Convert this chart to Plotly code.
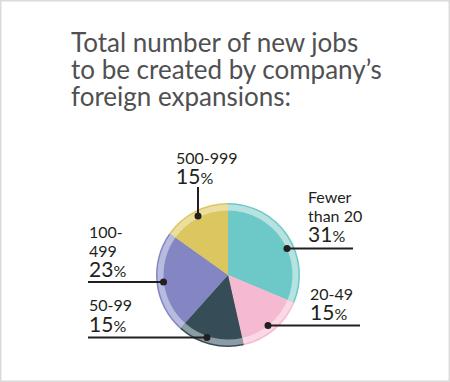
import plotly.graph_objects as go

# ---- data ----
categories = ["Fewer than 20", "20-49", "50-99", "100-499", "500-999"]
values = [31, 15, 15, 23, 15]
label_lines = [["Fewer", "than 20"], ["20-49"], ["50-99"], ["100-", "499"], ["500-999"]]
main_colors = ["#6CC9C7", "#F6B9D2", "#364D58", "#8386C2", "#DCC660"]
light_colors = ["#B6E2E0", "#FBD8E6", "#8A9DA4", "#B8BBE0", "#EADF9F"]
title_lines = ["Total number of new jobs", "to be created by company\u2019s", "foreign expansions:"]

W, H = 450, 382
CX, CY = 228, 275
FAM = "Lato, 'Open Sans', sans-serif"


def px(x):
    return x / W


def py(y):
    return 1 - y / H


def dom(r):
    return dict(x=[px(CX - r), px(CX + r)], y=[py(CY + r), py(CY - r)])


fig = go.Figure()
for r, cols in [(72, main_colors), (70.5, light_colors), (64.5, main_colors)]:
    fig.add_trace(go.Pie(
        labels=categories, values=values, sort=False, direction="clockwise",
        rotation=0, textinfo="none", hoverinfo="label+percent",
        marker=dict(colors=cols, line=dict(width=0)),
        domain=dom(r), showlegend=False,
    ))

annotations = []
# title: one block, line pitch 27px
title_txt = "<br>".join(f"<span style='font-size:26px'>{t}</span>" for t in title_lines)
annotations.append(dict(text=title_txt, x=px(69), y=py(52 - 27.7), xref="paper", yref="paper",
                        xanchor="left", yanchor="top", align="left", showarrow=False,
                        font=dict(family=FAM, size=27 / 1.3, color="#505052")))

# label placement: (x, first line baseline, pct baseline)
label_pos = [(306, 203, 241.5), (308, 300, 320), (87, 310.5, 331.5), (87, 238, 276.5), (174, 164, 184)]
for lines, v, (lx, b0, pb) in zip(label_lines, values, label_pos):
    parts = [f"<span style='font-size:16px'>{t}</span>" for t in lines]
    parts.append(f"<span style='font-size:21px'>{v}<span style='font-size:16px'>%</span></span>")
    base = (pb - b0) / (len(lines) * 1.3)
    annotations.append(dict(text="<br>".join(parts), x=px(lx), y=py(b0 - 17.8), xref="paper", yref="paper",
                            xanchor="left", yanchor="top", align="left", showarrow=False,
                            font=dict(family=FAM, size=base, color="#231F20")))

shapes = [dict(type="rect", xref="paper", yref="paper", x0=0.001, x1=0.999, y0=0.001, y1=0.999,
               line=dict(color="#DADADA", width=2), fillcolor="rgba(0,0,0,0)")]
# leader lines: (x0, y0, x1, y1, dot x, dot y)
leaders = [
    (287, 248.5, 353, 248.5, 287, 248.5),
    (268, 325.5, 360, 325.5, 268, 325.5),
    (88, 337.5, 207, 337.5, 207, 337.5),
    (88, 282, 163.5, 282, 163.5, 282),
    (198, 187, 198, 216, 198, 216),
]
for x0, y0, x1, y1, dx, dy in leaders:
    shapes.append(dict(type="line", xref="paper", yref="paper", x0=px(x0), y0=py(y0), x1=px(x1), y1=py(y1),
                       line=dict(color="#231F20", width=2)))
    shapes.append(dict(type="circle", xref="paper", yref="paper", x0=px(dx - 3.5), x1=px(dx + 3.5),
                       y0=py(dy + 3.5), y1=py(dy - 3.5), fillcolor="#231F20", line=dict(width=0)))

fig.update_layout(width=W, height=H, margin=dict(l=0, r=0, t=0, b=0), paper_bgcolor="white",
                  plot_bgcolor="white", annotations=annotations, shapes=shapes)
fig.write_html("out.html", config={"displayModeBar": False},
               post_script="document.body.style.margin='0';document.body.style.overflow='hidden';")
